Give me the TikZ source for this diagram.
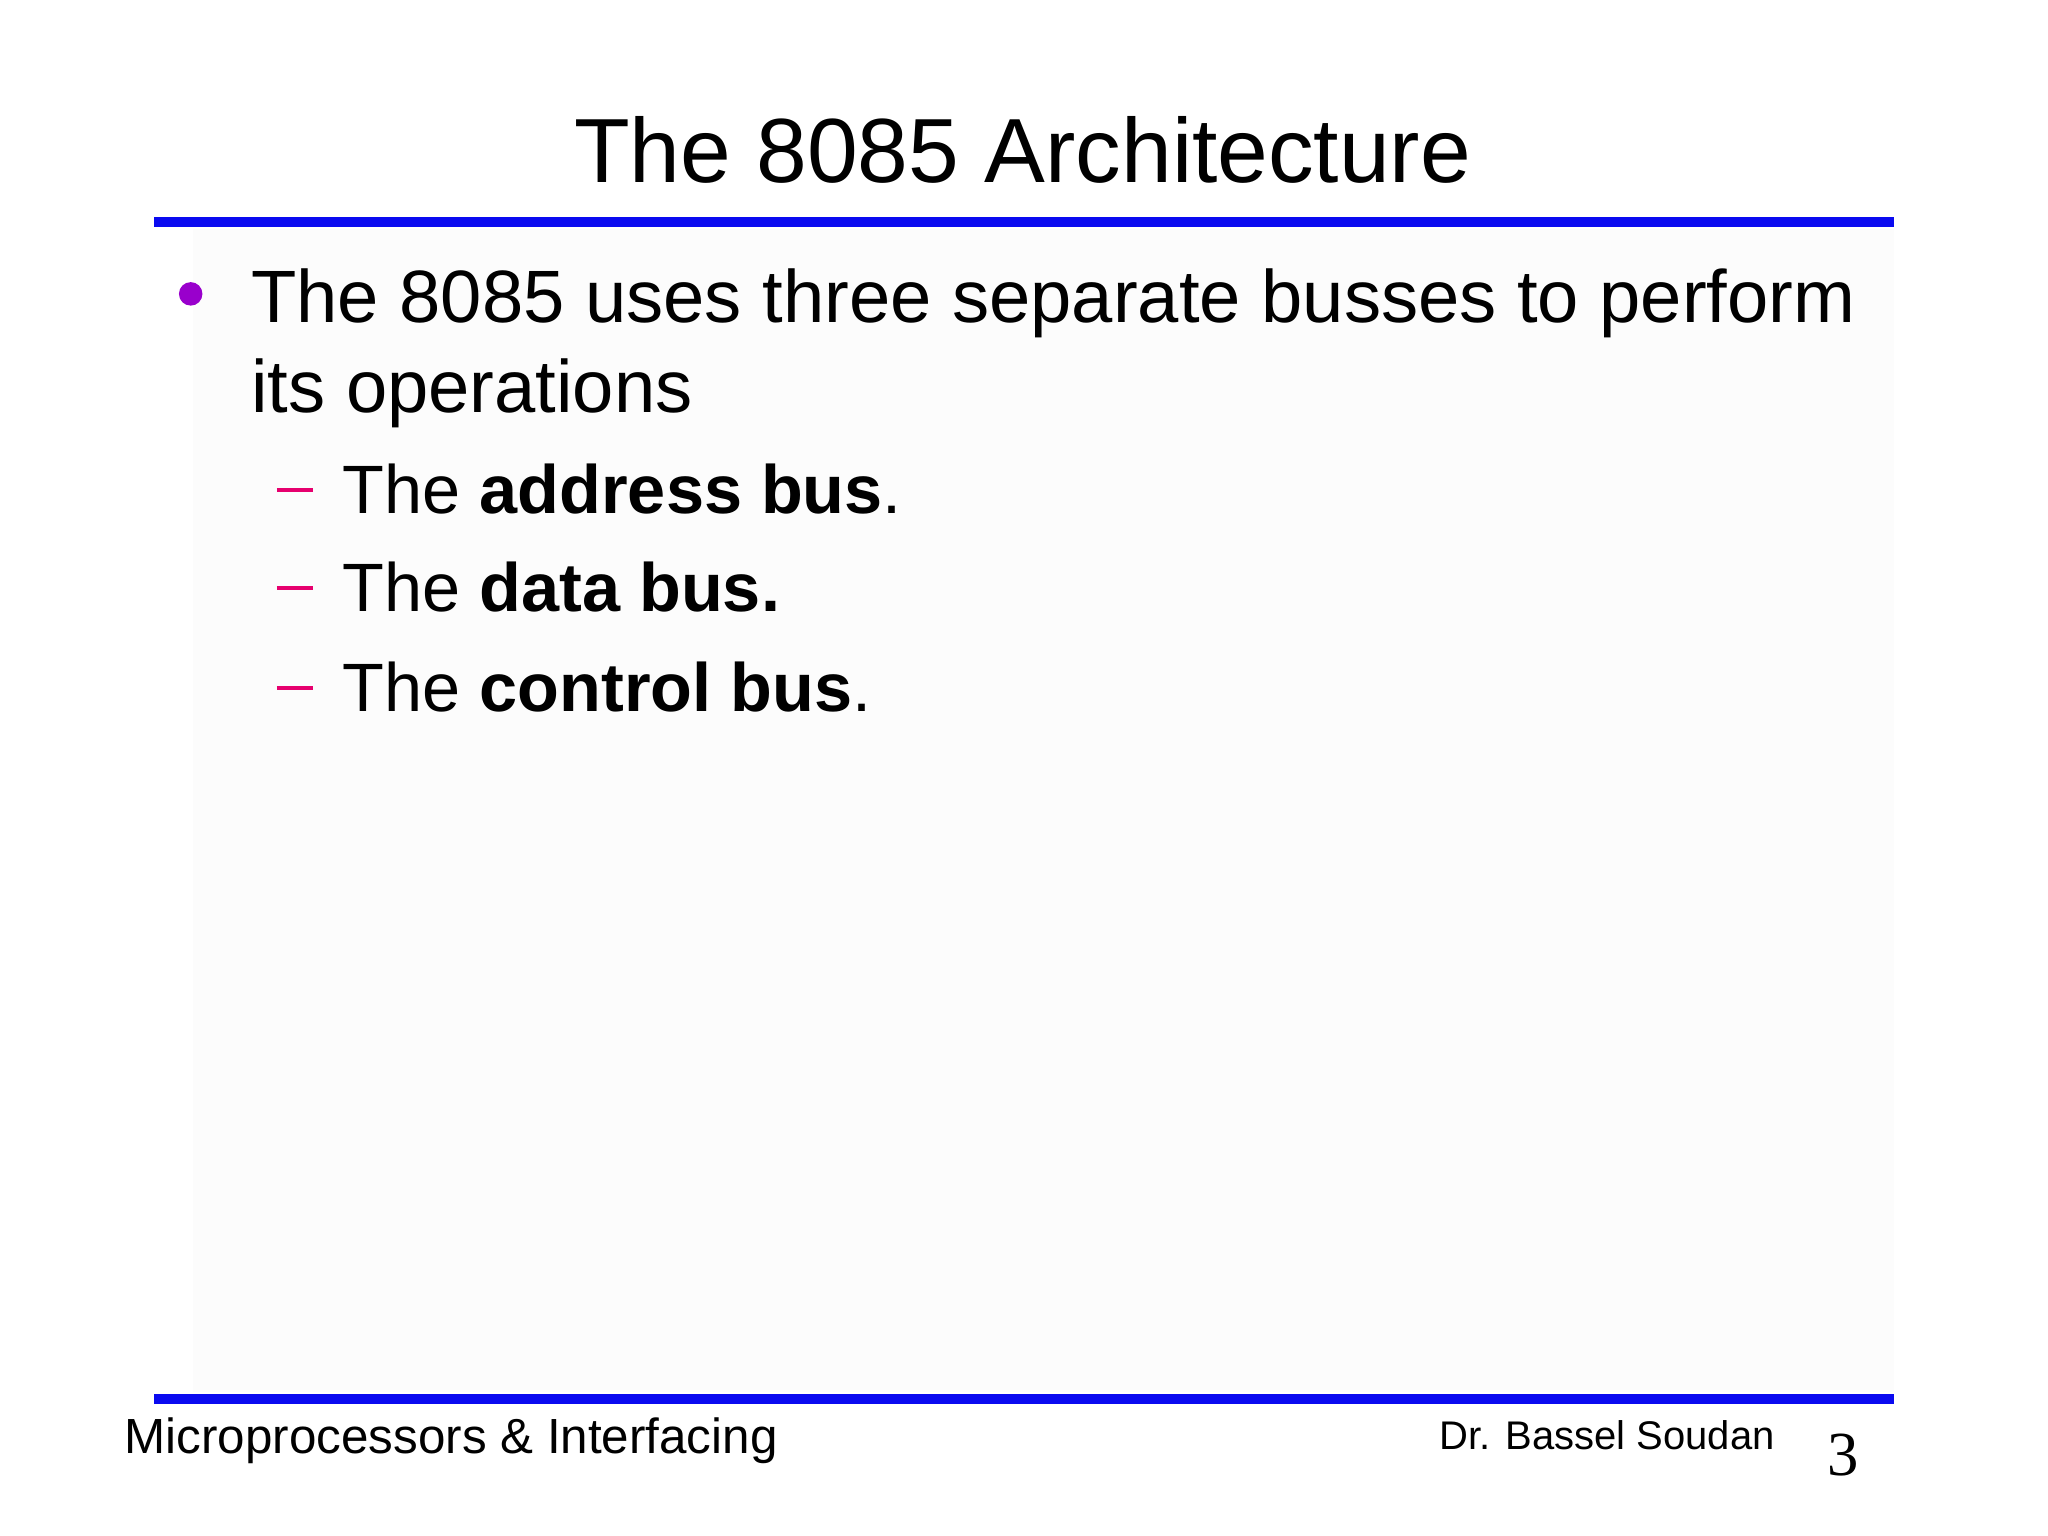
\documentclass[tikz,border=0pt]{standalone}
\usepackage{fontspec}
\setmainfont{Liberation Sans}
\newfontfamily\serifnum{Liberation Serif}
\definecolor{bluebar}{RGB}{10,10,240}
\definecolor{bulletpurple}{RGB}{153,0,204}
\definecolor{dashpink}{RGB}{230,0,110}
\begin{document}
\begin{tikzpicture}[x=0.5pt,y=-0.5pt,
  body/.style={anchor=base west,inner sep=0,font=\fontsize{28.4}{32}\selectfont},
  sub/.style={anchor=base west,inner sep=0,font=\fontsize{26.2}{30}\selectfont},
  bar/.style={draw=bluebar,line width=4pt},
  foot/.style={anchor=base west,inner sep=0,font=\fontsize{18.9}{20}\selectfont}]
\useasboundingbox (0,0) rectangle (1568,1176);
\fill[black!1] (148,175) rectangle (1450,1066);
\draw[bar] (118,170) -- (1450,170);
\draw[bar] (118,1071) -- (1450,1071);
\node[anchor=base,inner sep=0,font=\fontsize{34.9}{40}\selectfont] (title) at (783,140) {The 8085 Architecture};
\fill[bulletpurple] (146,225) circle (9);
\node[body] (l1) at (192,247) {The 8085 uses three separate busses to perform};
\node[body] (l2) at (192,316) {its operations};
\foreach \y/\t [count=\i] in {393/{The \textbf{address bus}.},468/{The \textbf{data bus.}},545/{The \textbf{control bus}.}}{
  \draw[dashpink,line width=1.5pt] (212,\y-18) -- (240,\y-18);
  \node[sub] (s\i) at (262,\y) {\t};
}
\node[foot] (f1) at (95,1113) {Microprocessors \& Interfacing};
\node[foot,font=\fontsize{15.3}{17}\selectfont] (f2) at (1102,1110) {Dr. Bassel Soudan};
\node[anchor=base west,inner sep=0,font=\serifnum\fontsize{24}{26}\selectfont] (pg) at (1399,1130) {3};
\end{tikzpicture}
\end{document}
